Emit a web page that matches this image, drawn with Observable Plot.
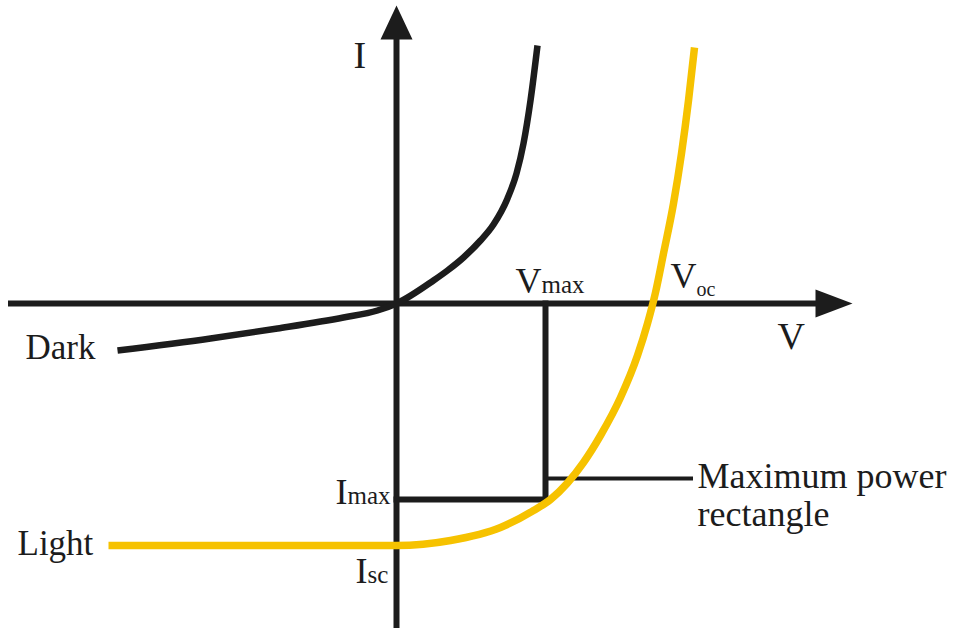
<!DOCTYPE html>
<html>
<head>
<meta charset="utf-8">
<script src="https://cdn.jsdelivr.net/npm/d3@7"></script>
<script src="https://cdn.jsdelivr.net/npm/@observablehq/plot@0.6"></script>
<style>
  html, body { margin: 0; padding: 0; background: #ffffff; }
  svg { display: block; }
</style>
</head>
<body>
<script>
// ---- Data (arbitrary schematic units: V horizontal, I vertical) ----
const darkV  = [-2.79, -1.86, -1.19, -0.53, -0.19, 0, 0.37, 0.51, 0.67, 0.84, 0.97, 1.11, 1.20, 1.27, 1.34, 1.41];
const darkI  = [-0.47, -0.35, -0.25, -0.14, -0.07, 0, 0.23, 0.33, 0.46, 0.63, 0.79, 1.05, 1.30, 1.60, 2.03, 2.58];

const lightV = [-2.88, -1.46, 0, 0.54, 1.04, 1.37, 1.54, 1.87, 2.04, 2.24, 2.41, 2.51, 2.59, 2.67, 2.77, 2.85, 2.92, 2.98];
const lightI = [-2.42, -2.42, -2.42, -2.37, -2.24, -2.07, -1.96, -1.59, -1.32, -0.94, -0.52, -0.20, 0.11, 0.50, 1.00, 1.50, 2.03, 2.56];

const Vmax = 1.49;
const Imax = -1.96;
const pointerI = -1.75;
const pointerEndV = 2.97;

const vAxisExtent = [-3.88, 4.40];
const iAxisExtent = [-3.25, 2.85];
const vArrowTip = [4.56, 0];
const iArrowTip = [0, 2.98];

const axisLabelText = ["I", "V"];
const axisLabelV    = [-0.43, 3.81];
const axisLabelI    = [2.36, -0.45];

const pointLabelMain = ["V", "V", "I", "I"];
const pointLabelSub  = ["max", "oc", "max", "sc"];
const pointLabelV    = [1.19, 2.74, -0.61, -0.41];
const pointLabelI    = [0.11, 0.16, -2.00, -2.79];

const curveLabelText = ["Dark", "Light"];
const curveLabelV    = [-3.71, -3.79];
const curveLabelI    = [-0.55, -2.51];

const noteText = ["Maximum power\nrectangle"];
const noteV    = [3.01];
const noteI    = [-2.22];

// ---- tables built from arrays ----
const dark  = darkV.map((v, k) => ({v, i: darkI[k]}));
const light = lightV.map((v, k) => ({v, i: lightI[k]}));
const rect  = [{v: 0, i: Imax}, {v: Vmax, i: Imax}, {v: Vmax, i: 0}];
const axisLabels  = axisLabelText.map((t, k) => ({t, v: axisLabelV[k], i: axisLabelI[k]}));
const pointLabels = pointLabelMain.map((t, k) => ({t, sub: pointLabelSub[k], v: pointLabelV[k], i: pointLabelI[k]}));
const curveLabels = curveLabelText.map((t, k) => ({t, v: curveLabelV[k], i: curveLabelI[k]}));
const notes = noteText.map((t, k) => ({t, v: noteV[k], i: noteI[k]}));

// custom filled arrowheads (tip at the anchor point)
const arrowUp = {draw(ctx) { ctx.moveTo(0, 0); ctx.lineTo(16, 34); ctx.lineTo(-16, 34); ctx.closePath(); }};
const arrowRight = {draw(ctx) { ctx.moveTo(0, 0); ctx.lineTo(-37, 14); ctx.lineTo(-37, -14); ctx.closePath(); }};

const INK = "#1c1c1c";
const SUBINK = "#1c1c1d";
const YELLOW = "#f6c200";
const FONT = "'Liberation Serif', 'Times New Roman', Times, serif";

const chart = Plot.plot({
  width: 959,
  height: 628,
  margin: 0,
  x: {domain: [-3.96, 5.63], axis: null},
  y: {domain: [-3.25, 3.03], axis: null},
  style: {background: "#ffffff", fontFamily: FONT},
  marks: [
    // axes
    Plot.ruleY([0], {x1: vAxisExtent[0], x2: vAxisExtent[1], stroke: INK, strokeWidth: 6}),
    Plot.ruleX([0], {y1: iAxisExtent[0], y2: iAxisExtent[1], stroke: INK, strokeWidth: 6}),
    Plot.dot([vArrowTip], {x: d => d[0], y: d => d[1], symbol: arrowRight, fill: INK, stroke: "none"}),
    Plot.dot([iArrowTip], {x: d => d[0], y: d => d[1], symbol: arrowUp, fill: INK, stroke: "none"}),
    // maximum power rectangle and pointer
    Plot.line(rect, {x: "v", y: "i", stroke: INK, strokeWidth: 6, strokeLinejoin: "miter", strokeLinecap: "square"}),
    Plot.ruleY([pointerI], {x1: Vmax, x2: pointerEndV, stroke: INK, strokeWidth: 4}),
    // curves
    Plot.line(dark, {x: "v", y: "i", curve: "monotone-x", stroke: INK, strokeWidth: 6.5, strokeLinecap: "butt"}),
    Plot.line(light, {x: "v", y: "i", curve: "monotone-x", stroke: YELLOW, strokeWidth: 7.5, strokeLinecap: "butt"}),
    // labels
    Plot.text(axisLabels, {x: "v", y: "i", text: "t", textAnchor: "start", lineAnchor: "bottom", fontSize: 38, fill: INK}),
    Plot.text(pointLabels, {x: "v", y: "i", text: "t", textAnchor: "start", lineAnchor: "bottom", fontSize: 36, fill: SUBINK}),
    Plot.text(curveLabels, {x: "v", y: "i", text: "t", textAnchor: "start", lineAnchor: "bottom", fontSize: 35, fill: INK}),
    Plot.text(notes, {x: "v", y: "i", text: "t", textAnchor: "start", lineAnchor: "bottom", fontSize: 36, lineHeight: 1.03, fill: INK})
  ]
});

// add subscripts as tspans (text nodes follow the data order)
d3.select(chart).selectAll(`g[fill="${SUBINK}"] text`).each(function(_, k) {
  const d = pointLabels[k];
  if (!d) return;
  const small = d.sub === "oc";
  d3.select(this).append("tspan")
    .attr("font-size", small ? 20 : 25)
    .attr("dy", small ? 8 : 0)
    .text(d.sub);
});

document.body.appendChild(chart);
</script>
</body>
</html>
